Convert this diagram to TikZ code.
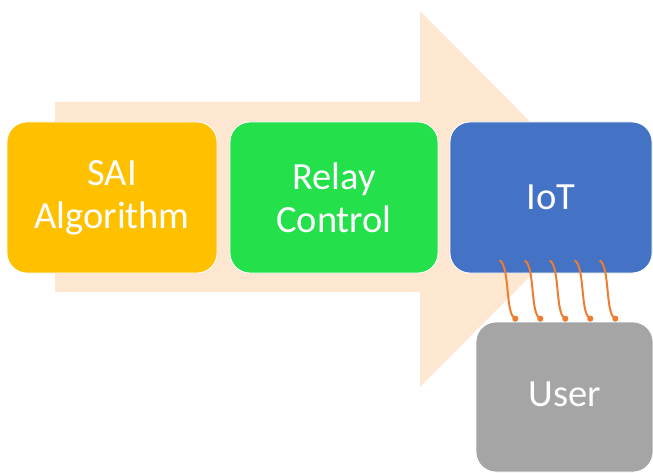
\documentclass[tikz,border=0pt]{standalone}
\usepackage{fontspec}
\setmainfont{Carlito}
\usetikzlibrary{arrows.meta,calc}
\definecolor{peach}{HTML}{FDE7D0}
\definecolor{saiorange}{HTML}{FFC000}
\definecolor{relaygreen}{HTML}{23E04B}
\definecolor{iotblue}{HTML}{4472C4}
\definecolor{usergray}{HTML}{A5A5A5}
\definecolor{wire}{HTML}{ED7D31}
\tikzset{
  block/.style={draw=white, line width=0.8pt, rounded corners=20pt, inner sep=0pt,
    minimum height=151pt, align=center, text=white,
    font=\fontsize{38.5}{43}\selectfont},
  link/.style={draw=wire, line width=2pt, -{Circle[length=6pt,width=6pt]}}
}
\begin{document}
\begin{tikzpicture}[x=1pt,y=-1pt]
\useasboundingbox (0,0) rectangle (653,473);
% flow arrow in the background
\fill[peach] (55,102) -- (420,102) -- (420,11) -- (607,199) -- (420,387)
  -- (420,292) -- (55,292) -- cycle;
% stage blocks
\node[block, fill=saiorange, minimum width=210pt] (sai) at (112,197.5) {SAI\\Algorithm};
\node[block, fill=relaygreen, minimum width=208pt] (relay) at (334,197.5) {Relay\\Control};
\node[block, fill=iotblue, minimum width=202pt] (iot) at (551,197.5) {IoT};
\node[block, fill=usergray, minimum width=177pt, minimum height=150pt] (user) at (564.5,397) {\raisebox{6pt}{User}};
% wires between IoT and User
\foreach \i in {0,...,4} {
  \coordinate (w\i s) at ($(iot.south west)+(50+25*\i,-13)$);
  \coordinate (w\i e) at ($(user.north west)+(42+25*\i,-1)$);
  \draw[link] (w\i s) .. controls +(10,5) and +(-12,-10) .. (w\i e);
}
\end{tikzpicture}
\end{document}
